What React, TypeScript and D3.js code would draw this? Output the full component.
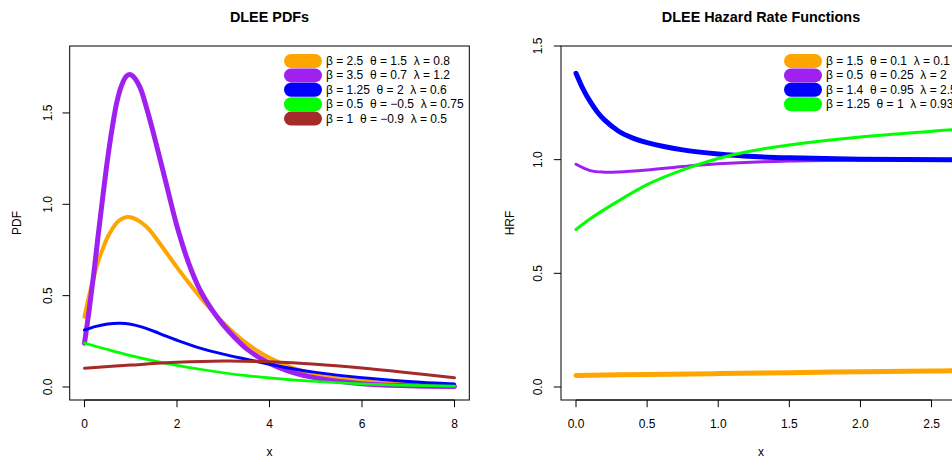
import React from "react";
import * as d3 from "d3";

// ---------- DATA ----------
const pdfColors = ["#FFA500", "#A020F0", "#0000FF", "#00FF00", "#A52A2A"];
const pdfWidths = [4, 5, 3, 2.7, 3];
const pdfLegend = [
  "β = 2.5  θ = 1.5  λ = 0.8",
  "β = 3.5  θ = 0.7  λ = 1.2",
  "β = 1.25  θ = 2  λ = 0.6",
  "β = 0.5  θ = −0.5  λ = 0.75",
  "β = 1  θ = −0.9  λ = 0.5",
];
const pdfOrangeX = [0, 0.1, 0.2, 0.3, 0.4, 0.5, 0.6, 0.7, 0.8, 0.92, 1.05, 1.2, 1.4, 1.6, 1.8, 2.0, 2.25, 2.5, 2.75, 3.0, 3.25, 3.5, 3.75, 4, 4.5, 5, 5.5, 6, 7, 8];
const pdfOrangeY = [0.385, 0.5, 0.6, 0.69, 0.76, 0.82, 0.865, 0.9, 0.92, 0.93, 0.925, 0.905, 0.862, 0.795, 0.725, 0.655, 0.572, 0.493, 0.42, 0.352, 0.292, 0.24, 0.196, 0.16, 0.105, 0.07, 0.047, 0.032, 0.015, 0.007];
const pdfPurpleX = [0, 0.1, 0.2, 0.3, 0.4, 0.5, 0.6, 0.7, 0.8, 0.9, 0.97, 1.05, 1.2, 1.35, 1.5, 1.75, 2.0, 2.25, 2.5, 2.75, 3.0, 3.25, 3.5, 4.0, 4.5, 5, 6, 7, 8];
const pdfPurpleY = [0.24, 0.42, 0.62, 0.84, 1.05, 1.25, 1.42, 1.56, 1.65, 1.7, 1.71, 1.7, 1.64, 1.52, 1.38, 1.13, 0.88, 0.68, 0.53, 0.425, 0.34, 0.27, 0.21, 0.13, 0.08, 0.05, 0.018, 0.007, 0.003];
const pdfBlueX = [0, 0.25, 0.5, 0.77, 1.0, 1.25, 1.5, 1.75, 2.0, 2.5, 3.0, 3.5, 4, 4.5, 5, 6, 7, 8];
const pdfBlueY = [0.312, 0.332, 0.345, 0.349, 0.344, 0.328, 0.305, 0.28, 0.256, 0.213, 0.18, 0.152, 0.125, 0.1, 0.08, 0.05, 0.03, 0.016];
const pdfGreenX = [0, 0.5, 1, 1.5, 2, 2.5, 3, 3.5, 4, 5, 6, 7, 8];
const pdfGreenY = [0.24, 0.205, 0.172, 0.143, 0.118, 0.097, 0.078, 0.062, 0.05, 0.03, 0.017, 0.009, 0.005];
const pdfBrownX = [0, 1, 2, 3, 4, 5, 6, 7, 8];
const pdfBrownY = [0.103, 0.12, 0.135, 0.142, 0.138, 0.125, 0.104, 0.078, 0.05];

const hrfColors = ["#FFA500", "#A020F0", "#0000FF", "#00FF00"];
const hrfWidths = [5, 3, 5, 3];
const hrfLegend = [
  "β = 1.5  θ = 0.1  λ = 0.1",
  "β = 0.5  θ = 0.25  λ = 2",
  "β = 1.4  θ = 0.95  λ = 2.5",
  "β = 1.25  θ = 1  λ = 0.93",
];
const hrfOrangeX = [0, 0.5, 1, 1.5, 2, 2.5, 2.7];
const hrfOrangeY = [0.051, 0.055, 0.059, 0.063, 0.067, 0.07, 0.072];
const hrfPurpleX = [0, 0.1, 0.2, 0.3, 0.5, 0.75, 1.0, 1.5, 2.0, 2.7];
const hrfPurpleY = [0.98, 0.952, 0.945, 0.946, 0.955, 0.97, 0.982, 0.994, 0.998, 1.0];
const hrfBlueX = [0, 0.05, 0.1, 0.15, 0.2, 0.3, 0.4, 0.5, 0.75, 1.0, 1.25, 1.5, 2.0, 2.7];
const hrfBlueY = [1.38, 1.31, 1.255, 1.21, 1.175, 1.125, 1.095, 1.075, 1.043, 1.025, 1.014, 1.008, 1.002, 1.0];
const hrfGreenX = [0, 0.1, 0.25, 0.5, 0.75, 1.0, 1.25, 1.5, 2.0, 2.5, 2.7];
const hrfGreenY = [0.693, 0.74, 0.8, 0.89, 0.955, 1.005, 1.04, 1.065, 1.1, 1.125, 1.134];

const pdfXTicks = [0, 2, 4, 6, 8];
const pdfYTicks = [0, 0.5, 1.0, 1.5];
const hrfXTicks = [0, 0.5, 1.0, 1.5, 2.0, 2.5];
const hrfYTicks = [0, 0.5, 1.0, 1.5];

const FONT = "'Liberation Sans', Arial, Helvetica, sans-serif";

type Series = { xs: number[]; ys: number[]; color: string; width: number };

function Panel(props: {
  left: number; right: number; top: number; bottom: number;
  xDomain: [number, number]; yDomain: [number, number];
  xTicks: number[]; yTicks: number[]; xFmt: (v: number) => string;
  title: string; yLabel: string; series: Series[]; legend: string[];
  legendX: number; legendY: number; yLabelX: number; yTickX: number; clipId: string;
}) {
  const p = props;
  const x = d3.scaleLinear().domain(p.xDomain).range([p.left, p.right]);
  const y = d3.scaleLinear().domain(p.yDomain).range([p.bottom, p.top]);
  const line = d3.line<[number, number]>().x((d) => x(d[0])).y((d) => y(d[1])).curve(d3.curveCatmullRom.alpha(0.5));
  const cx = (p.left + p.right) / 2;
  const cy = (p.top + p.bottom) / 2;
  const rowH = 14.4;
  return (
    <g>
      <defs>
        <clipPath id={p.clipId}>
          <rect x={p.left} y={p.top} width={p.right - p.left} height={p.bottom - p.top} />
        </clipPath>
      </defs>
      <g clipPath={`url(#${p.clipId})`}>
        {p.series.map((s, i) => (
          <path key={i} d={line(s.xs.map((v, j) => [v, s.ys[j]] as [number, number])) || ""}
            fill="none" stroke={s.color} strokeWidth={s.width} strokeLinecap="round" strokeLinejoin="round" />
        ))}
      </g>
      <rect x={p.left} y={p.top} width={p.right - p.left} height={p.bottom - p.top} fill="none" stroke="#000" strokeWidth={1} />
      {/* x axis */}
      <line x1={x(p.xTicks[0])} x2={x(p.xTicks[p.xTicks.length - 1])} y1={p.bottom} y2={p.bottom} stroke="#000" />
      {p.xTicks.map((t) => (
        <g key={t}>
          <line x1={x(t)} x2={x(t)} y1={p.bottom} y2={p.bottom + 7.2} stroke="#000" />
          <text x={x(t)} y={p.bottom + 24} textAnchor="middle" dominantBaseline="central" fontSize={12} fontFamily={FONT}>{p.xFmt(t)}</text>
        </g>
      ))}
      {/* y axis */}
      {p.yTicks.map((t) => (
        <g key={t}>
          <line x1={p.left - 7.2} x2={p.left} y1={y(t)} y2={y(t)} stroke="#000" />
          <text transform={`translate(${p.yTickX},${y(t)}) rotate(-90)`} textAnchor="middle" dominantBaseline="central" fontSize={12} fontFamily={FONT}>{t.toFixed(1)}</text>
        </g>
      ))}
      <text x={cx} y={17} textAnchor="middle" dominantBaseline="central" fontSize={14.4} fontWeight="bold" fontFamily={FONT}>{p.title}</text>
      <text x={cx} y={452} textAnchor="middle" dominantBaseline="central" fontSize={12} fontFamily={FONT}>x</text>
      <text transform={`translate(${p.yLabelX},${cy}) rotate(-90)`} textAnchor="middle" dominantBaseline="central" fontSize={12} fontFamily={FONT}>{p.yLabel}</text>
      {/* legend */}
      {p.legend.map((lab, i) => {
        const ly = p.legendY + i * rowH;
        return (
          <g key={i}>
            <line x1={p.legendX + 7} x2={p.legendX + 31} y1={ly} y2={ly} stroke={p.series[i].color} strokeWidth={14} strokeLinecap="round" />
            <text x={p.legendX + 42} y={ly} dominantBaseline="central" fontSize={12} fontFamily={FONT} style={{ whiteSpace: "pre" }}>{lab}</text>
          </g>
        );
      })}
    </g>
  );
}

export default function App() {
  const pdfSeries: Series[] = [
    { xs: pdfOrangeX, ys: pdfOrangeY, color: pdfColors[0], width: pdfWidths[0] },
    { xs: pdfPurpleX, ys: pdfPurpleY, color: pdfColors[1], width: pdfWidths[1] },
    { xs: pdfBlueX, ys: pdfBlueY, color: pdfColors[2], width: pdfWidths[2] },
    { xs: pdfGreenX, ys: pdfGreenY, color: pdfColors[3], width: pdfWidths[3] },
    { xs: pdfBrownX, ys: pdfBrownY, color: pdfColors[4], width: pdfWidths[4] },
  ];
  const hrfSeries: Series[] = [
    { xs: hrfOrangeX, ys: hrfOrangeY, color: hrfColors[0], width: hrfWidths[0] },
    { xs: hrfPurpleX, ys: hrfPurpleY, color: hrfColors[1], width: hrfWidths[1] },
    { xs: hrfBlueX, ys: hrfBlueY, color: hrfColors[2], width: hrfWidths[2] },
    { xs: hrfGreenX, ys: hrfGreenY, color: hrfColors[3], width: hrfWidths[3] },
  ];
  return (
    <svg width={952} height={458} style={{ position: "absolute", left: 0, top: 0, background: "#fff" }}>
      <rect x={0} y={0} width={952} height={458} fill="#fff" />
      <Panel left={69.7} right={469.3} top={46} bottom={400}
        xDomain={[-0.32, 8.32]} yDomain={[-13 / 182.7, 341 / 182.7]}
        xTicks={pdfXTicks} yTicks={pdfYTicks} xFmt={(v) => String(v)}
        title="DLEE PDFs" yLabel="PDF" series={pdfSeries} legend={pdfLegend}
        legendX={284} legendY={61} yLabelX={17} yTickX={48} clipId="c1" />
      <Panel left={561} right={961} top={46} bottom={400}
        xDomain={[-0.1055, 2.707]} yDomain={[-13 / 227.3, 1.5]}
        xTicks={hrfXTicks} yTicks={hrfYTicks} xFmt={(v) => v.toFixed(1)}
        title="DLEE Hazard Rate Functions" yLabel="HRF" series={hrfSeries} legend={hrfLegend}
        legendX={784} legendY={61} yLabelX={510} yTickX={538} clipId="c2" />
    </svg>
  );
}
